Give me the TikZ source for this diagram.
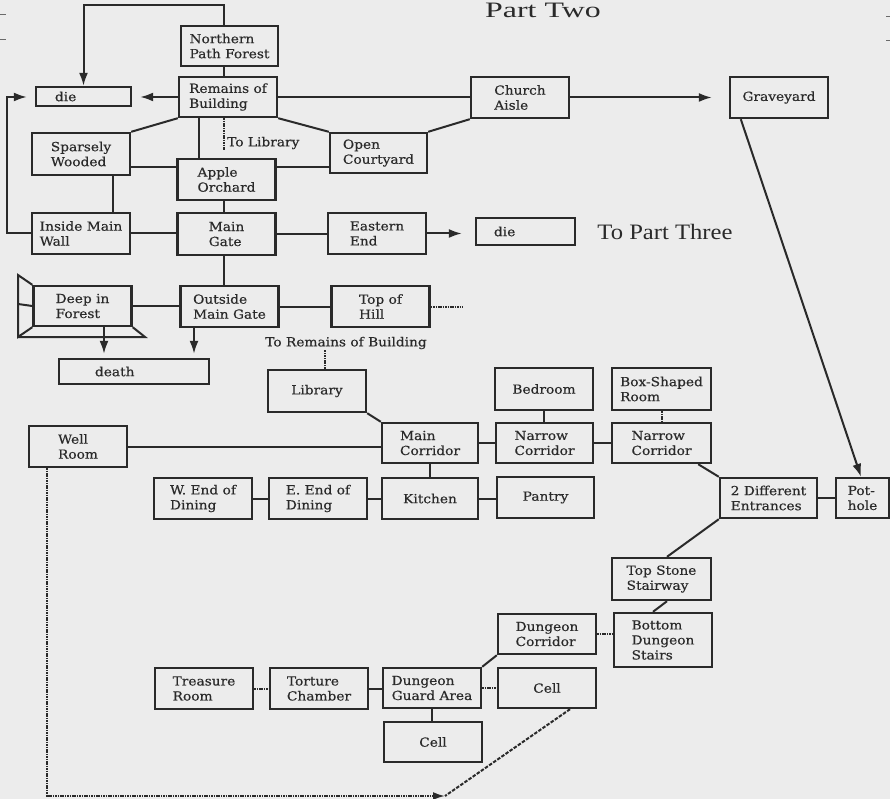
\documentclass[tikz,border=0pt]{standalone}
\usepackage{fontspec}
\usepackage{graphicx}
\setmainfont{DejaVu Serif}[FakeStretch=1.1,FakeBold=0.4]
\newfontfamily\titlefont{Liberation Serif}
\usetikzlibrary{arrows.meta,calc}
\definecolor{ink}{HTML}{2A2A2A}
\definecolor{paper}{HTML}{ECECEC}
\begin{document}
\begin{tikzpicture}[x=1pt,y=-1pt,
  box/.style={draw=ink, line width=2.4pt, minimum width=98pt, minimum height=41pt,
    inner sep=2pt, align=left, font=\fontsize{12.5}{15}\selectfont, text=ink},
  lbl/.style={font=\fontsize{12.5}{15}\selectfont, text=ink, inner sep=1pt},
  title/.style={font=\titlefont\fontsize{22}{26}\selectfont, text=ink, inner sep=0pt},
  link/.style={draw=ink, line width=2pt},
  dot/.style={draw=ink, line width=2pt, dash pattern=on 1.6pt off 0.8pt},
  dsh/.style={draw=ink, line width=2pt, dash pattern=on 3.5pt off 1.5pt},
  arr/.style={link, -{Latex[length=13pt,width=9pt]}},
]
\useasboundingbox (0,0) rectangle (890,799);
\fill[paper] (0,0) rectangle (890,799);
% page marks
\draw[ink!70, line width=1pt] (0,15) -- (6,15) (0,40) -- (6,40);
\draw[ink!70, line width=1pt] (886,17) -- (890,17) (886,41) -- (890,41);

% titles
\node[title] (p2) at (543,10) {\scalebox{1.45}[1]{Part Two}};
\node[title] (p3) at (665,232) {\scalebox{1.12}[1]{To Part Three}};

% nodes
\node[box, minimum width=97pt, minimum height=40pt] (npf) at (229.5,46) {Northern\\Path Forest};
\node[box, minimum height=40pt] (rob) at (228,97) {Remains of\\Building};
\node[box, minimum width=95pt, minimum height=19pt, text width=91pt] (die1) at (83.5,96.5) {\hspace*{17pt}die};
\node[box] (ca) at (520,97.5) {Church\\Aisle};
\node[box] (gy) at (779,97.5) {Graveyard};
\node[box, minimum height=42pt] (sw) at (81,154) {Sparsely\\Wooded};
\node[box] (ao) at (226.5,179.5) {Apple\\Orchard};
\node[box, minimum width=97pt, minimum height=40pt] (oc) at (378.5,153) {Open\\Courtyard};
\node[box] (imw) at (81,233.5) {Inside Main\\Wall};
\node[box, minimum height=42pt] (mg) at (226.5,234) {Main\\Gate};
\node[box] (ee) at (377,233.5) {Eastern\\End};
\node[box, minimum width=99pt, minimum height=27pt, text width=95pt] (die2) at (525.5,231.5) {\hspace*{16pt}die};
\node[box, minimum height=40pt] (dif) at (82.5,306) {Deep in\\Forest};
\node[box] (omg) at (229.5,306.5) {Outside\\Main Gate};
\node[box] (toh) at (380.5,306.5) {Top of\\Hill};
\node[box, minimum width=150pt, minimum height=25pt, text width=146pt] (death) at (134,371.5) {\hspace*{34pt}death};
\node[lbl, anchor=west] (tolib) at (226,143) {To Library};
\node[lbl] (trob) at (346,343) {To Remains of Building};
\node[box, minimum height=42pt] (lib) at (317,391) {Library};
\node[box, minimum height=42pt] (bed) at (544,389) {Bedroom};
\node[box, minimum width=99pt, minimum height=42pt] (bsr) at (661.5,389) {Box-Shaped\\Room};
\node[box] (wr) at (78,446.5) {Well\\Room};
\node[box, minimum width=96pt, minimum height=40pt] (mc) at (430,443) {Main\\Corridor};
\node[box, minimum width=97pt, minimum height=40pt] (nc1) at (544.5,443) {Narrow\\Corridor};
\node[box, minimum width=99pt, minimum height=40pt] (nc2) at (661.5,443) {Narrow\\Corridor};
\node[box] (wed) at (203,498.5) {W. End of\\Dining};
\node[box] (eed) at (318,498.5) {E. End of\\Dining};
\node[box, minimum width=96pt] (kit) at (430,498.5) {Kitchen};
\node[box, minimum width=97pt] (pan) at (545.5,497.5) {Pantry};
\node[box, minimum width=97pt, minimum height=40pt] (tde) at (768.5,498) {2 Different\\Entrances};
\node[box, minimum width=53pt, minimum height=40pt] (ph) at (862.5,498) {Pot-\\hole};
\node[box, minimum width=99pt, minimum height=42pt] (tss) at (661.5,579) {Top Stone\\Stairway};
\node[box, minimum height=54pt] (bds) at (663,640) {Bottom\\Dungeon\\Stairs};
\node[box, minimum height=40pt] (dc) at (547,634) {Dungeon\\Corridor};
\node[box, minimum height=40pt] (dga) at (432,688) {Dungeon\\Guard Area};
\node[box, minimum height=40pt] (cell1) at (547,688) {Cell};
\node[box, minimum height=40pt] (cell2) at (433,742) {Cell};
\node[box] (tr) at (204,688.5) {Treasure\\Room};
\node[box] (tc) at (319,688.5) {Torture\\Chamber};

% Deep in Forest frame
\draw[link, line join=miter] (dif.north west) -- (18,275) -- (18,337) -- (dif.south west);
\draw[link, line join=miter] (18,337) -- (145,337) -- (dif.south east);
\draw[link] (18,304) -- (dif.west);

% connectors
\coordinate (toploop) at (150,5);
\draw[arr] ([xshift=-5.5pt]npf.north) |- (toploop) -| (die1.north);
\draw[arr, shorten >=8pt] (rob.west) -- (rob.west -| die1.east);
\coordinate (lft) at (7,97);
\draw[arr, shorten >=8pt] (imw.west) -| (lft) -- (lft -| die1.west);
\draw[link] ([xshift=-5.5pt]npf.south) -- ([xshift=-5.5pt]npf.south |- rob.north);
\draw[link] (rob.south west) -- (sw.north east);
\draw[link] ([xshift=-29pt]rob.south) -- ([xshift=-29pt]rob.south |- ao.north);
\draw[link] (rob.south east) -- (oc.north west);
\draw[dot] ([xshift=-4pt]rob.south) -- ([xshift=-4pt]rob.south |- tolib.south);
\draw[link] (sw.east |- 0,167) -- (ao.west |- 0,167);
\draw[link] (ao.east |- 0,167) -- (oc.west |- 0,167);
\draw[link] (rob.east) -- (rob.east -| ca.west);
\draw[link] (oc.north east) -- (ca.south west);
\draw[arr, shorten >=17pt] (ca.east) -- (ca.east -| gy.west);
\draw[arr] ([xshift=12pt]gy.south west) -- ([xshift=-1.5pt]ph.north);
\draw[link] ([xshift=32pt]sw.south) -- ([xshift=32pt]sw.south |- imw.north);
\draw[link] ([xshift=-2.5pt]ao.south) -- ([xshift=-2.5pt]ao.south |- mg.north);
\draw[link] (imw.east) -- (imw.east -| mg.west);
\draw[link] (mg.east) -- (mg.east -| ee.west);
\draw[arr, shorten >=13pt] (ee.east) -- (ee.east -| die2.west);
\draw[link] ([xshift=-2.5pt]mg.south) -- ([xshift=-2.5pt]mg.south |- omg.north);
\draw[link] (dif.east) -- (dif.east -| omg.west);
\draw[link] (omg.east) -- (omg.east -| toh.west);
\coordinate (hillend) at (463,306.5);
\draw[dot] (toh.east) -- (hillend);
\draw[arr, shorten >=4pt] ([xshift=21.5pt]dif.south) -- ([xshift=21.5pt]dif.south |- death.north);
\draw[arr, shorten >=4pt] ([xshift=-35.5pt]omg.south) -- ([xshift=-35.5pt]omg.south |- death.north);
\draw[dot] ([xshift=8pt]lib.north) -- ([xshift=8pt]lib.north |- trob.south);
\draw[link] (lib.south east) -- (mc.north west);
\draw[link] (wr.east) -- (wr.east -| mc.west);
\draw[link] (mc.east) -- (mc.east -| nc1.west);
\draw[link] (nc1.east) -- (nc1.east -| nc2.west);
\draw[link] (bed.south) -- (bed.south |- nc1.north);
\draw[dot] (bsr.south) -- (bsr.south |- nc2.north);
\draw[link] (mc.south) -- (mc.south |- kit.north);
\draw[link] (wed.east) -- (wed.east -| eed.west);
\draw[link] (eed.east) -- (eed.east -| kit.west);
\draw[link] (kit.east) -- (kit.east -| pan.west);
\draw[link] ([xshift=-14pt]nc2.south east) -- (tde.north west);
\draw[link] (tde.east) -- (tde.east -| ph.west);
\draw[link] (tde.south west) -- ([xshift=5.5pt]tss.north);
\draw[link] ([xshift=5.5pt]tss.south) -- ([xshift=-10pt]bds.north);
\draw[dot] (dc.east) -- (dc.east -| bds.west);
\draw[link] (dc.south west) -- (dga.north east);
\draw[dot] (dga.east) -- (dga.east -| cell1.west);
\draw[link] (dga.south) -- (dga.south |- cell2.north);
\draw[dot] (tr.east) -- (tr.east -| tc.west);
\draw[link] (tc.east) -- (tc.east -| dga.west);
\coordinate (jn) at (445,796);
\draw[dot, -{Latex[length=12pt,width=8pt]}] ([xshift=-31pt]wr.south) -- ([xshift=-31pt]wr.south |- jn) -- (jn);
\draw[dsh] ([xshift=23pt]cell1.south) -- (jn);
\end{tikzpicture}
\end{document}
